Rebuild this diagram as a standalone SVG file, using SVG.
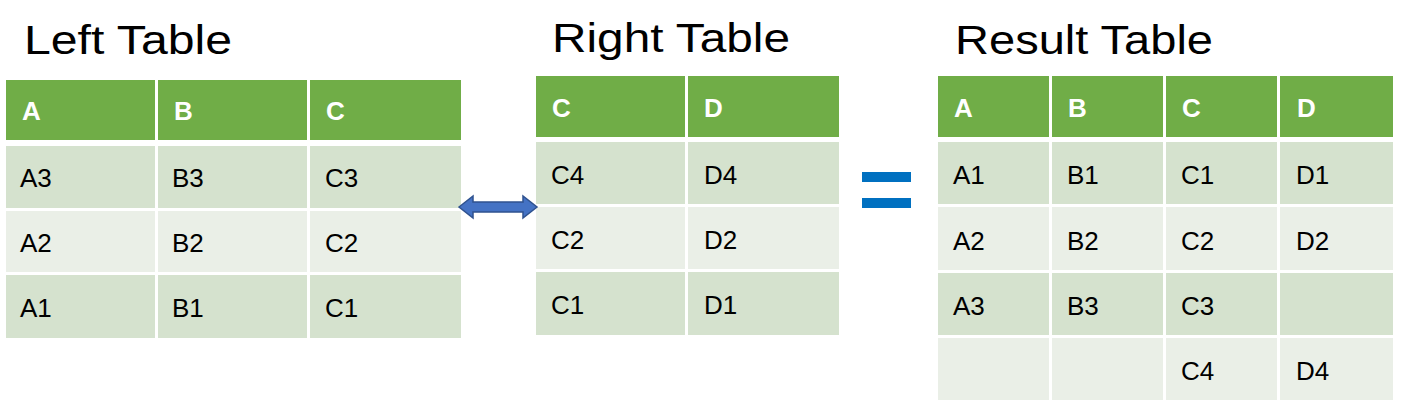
<svg xmlns="http://www.w3.org/2000/svg" width="1402" height="406" viewBox="0 0 1402 406">
<style>
.h{fill:#70AD47}.d{fill:#D5E2CE}.l{fill:#EAEFE7}
.t{font-family:"Liberation Sans",Arial,sans-serif;font-size:40px;fill:#000}
.ht{font-family:"Liberation Sans",Arial,sans-serif;font-size:26px;font-weight:bold;fill:#fff}
.c{font-family:"Liberation Sans",Arial,sans-serif;font-size:26px;fill:#000}
</style>
<rect width="1402" height="406" fill="#fff"/>
<g id="left">
<text class="t" x="24" y="54" textLength="208" lengthAdjust="spacingAndGlyphs">Left Table</text>
<rect class="h" x="6" y="80" width="149" height="60"/><rect class="h" x="158" y="80" width="149" height="60"/><rect class="h" x="310" y="80" width="151" height="60"/>
<rect class="d" x="6" y="146" width="149" height="62"/><rect class="d" x="158" y="146" width="149" height="62"/><rect class="d" x="310" y="146" width="151" height="62"/>
<rect class="l" x="6" y="211" width="149" height="61"/><rect class="l" x="158" y="211" width="149" height="61"/><rect class="l" x="310" y="211" width="151" height="61"/>
<rect class="d" x="6" y="275" width="149" height="63"/><rect class="d" x="158" y="275" width="149" height="63"/><rect class="d" x="310" y="275" width="151" height="63"/>
<text class="ht" x="22" y="120">A</text><text class="ht" x="174" y="120">B</text><text class="ht" x="326" y="120">C</text>
<text class="c" x="20" y="187">A3</text><text class="c" x="172" y="187">B3</text><text class="c" x="325" y="187">C3</text>
<text class="c" x="20" y="252">A2</text><text class="c" x="172" y="252">B2</text><text class="c" x="325" y="252">C2</text>
<text class="c" x="20" y="317">A1</text><text class="c" x="172" y="317">B1</text><text class="c" x="325" y="317">C1</text>
</g>
<g id="right">
<text class="t" x="552" y="52" textLength="238" lengthAdjust="spacingAndGlyphs">Right Table</text>
<rect class="h" x="536" y="76" width="149" height="61"/><rect class="h" x="688" y="76" width="151" height="61"/>
<rect class="d" x="536" y="142" width="149" height="62"/><rect class="d" x="688" y="142" width="151" height="62"/>
<rect class="l" x="536" y="207" width="149" height="62"/><rect class="l" x="688" y="207" width="151" height="62"/>
<rect class="d" x="536" y="272" width="149" height="63"/><rect class="d" x="688" y="272" width="151" height="63"/>
<text class="ht" x="552" y="117">C</text><text class="ht" x="704" y="117">D</text>
<text class="c" x="551" y="184">C4</text><text class="c" x="704" y="184">D4</text>
<text class="c" x="551" y="249">C2</text><text class="c" x="704" y="249">D2</text>
<text class="c" x="551" y="314">C1</text><text class="c" x="704" y="314">D1</text>
</g>
<g id="result">
<text class="t" x="955" y="54" textLength="258" lengthAdjust="spacingAndGlyphs">Result Table</text>
<rect class="h" x="938" y="76" width="111" height="61"/><rect class="h" x="1052" y="76" width="111" height="61"/><rect class="h" x="1166" y="76" width="111" height="61"/><rect class="h" x="1280" y="76" width="113" height="61"/>
<rect class="d" x="938" y="142" width="111" height="62"/><rect class="d" x="1052" y="142" width="111" height="62"/><rect class="d" x="1166" y="142" width="111" height="62"/><rect class="d" x="1280" y="142" width="113" height="62"/>
<rect class="l" x="938" y="207" width="111" height="63"/><rect class="l" x="1052" y="207" width="111" height="63"/><rect class="l" x="1166" y="207" width="111" height="63"/><rect class="l" x="1280" y="207" width="113" height="63"/>
<rect class="d" x="938" y="273" width="111" height="62"/><rect class="d" x="1052" y="273" width="111" height="62"/><rect class="d" x="1166" y="273" width="111" height="62"/><rect class="d" x="1280" y="273" width="113" height="62"/>
<rect class="l" x="938" y="338" width="111" height="62"/><rect class="l" x="1052" y="338" width="111" height="62"/><rect class="l" x="1166" y="338" width="111" height="62"/><rect class="l" x="1280" y="338" width="113" height="62"/>
<text class="ht" x="954" y="117">A</text><text class="ht" x="1068" y="117">B</text><text class="ht" x="1182" y="117">C</text><text class="ht" x="1297" y="117">D</text>
<text class="c" x="953" y="184">A1</text><text class="c" x="1067" y="184">B1</text><text class="c" x="1181" y="184">C1</text><text class="c" x="1296" y="184">D1</text>
<text class="c" x="953" y="250">A2</text><text class="c" x="1067" y="250">B2</text><text class="c" x="1181" y="250">C2</text><text class="c" x="1296" y="250">D2</text>
<text class="c" x="953" y="315">A3</text><text class="c" x="1067" y="315">B3</text><text class="c" x="1181" y="315">C3</text>
<text class="c" x="1181" y="380">C4</text><text class="c" x="1296" y="380">D4</text>
</g>
<g id="connectors">
<polygon points="459,207 473,196 473,202 523,202 523,196 537,207 523,218 523,212 473,212 473,218" fill="#4472C4" stroke="#2F528F" stroke-width="1.5"/>
<rect x="862" y="172" width="49" height="10" fill="#0070C0"/>
<rect x="862" y="198" width="49" height="10" fill="#0070C0"/>
</g>
</svg>
